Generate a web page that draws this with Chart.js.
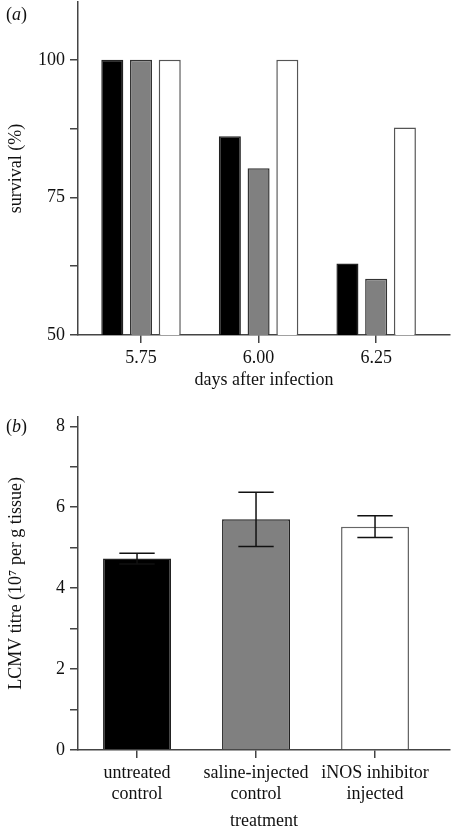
<!DOCTYPE html>
<html>
<head>
<meta charset="utf-8">
<script src="https://cdn.jsdelivr.net/npm/chart.js@4"></script>
<style>
  body { margin: 0; background: #fff; }
  .panel { position: absolute; left: 0; width: 452px; }
  .tag { position: absolute; left: 6px; font: 18px "Liberation Serif", serif; color: #111; }
</style>
</head>
<body>
<div class="panel" style="top:0;height:400px"><canvas id="chartA"></canvas></div>
<div class="panel" style="top:400px;height:432px"><canvas id="chartB"></canvas></div>
<div class="tag" style="top:4px">(<i>a</i>)</div>
<div class="tag" style="top:416px">(<i>b</i>)</div>
<script>
"use strict";

// panel (a): survival by day
const days = [5.75, 6.00, 6.25]
const dayTicks = [5.75, 6.00, 6.25]
const survivalTicks = [50, 62.5, 75, 87.5, 100]
const survivalLabels = [50, 75, 100]
const untreated = [100, 86.1, 63.0]
const saline = [100, 80.3, 60.2]
const inhibitor = [100, 100, 87.7]

// panel (b): LCMV titre by treatment
const treatments = [["untreated", "control"], ["saline-injected", "control"], ["iNOS inhibitor", "injected"]]
const titre = [4.73, 5.70, 5.52]
const titreErr = [0.13, 0.67, 0.27]
const titreTicks = [0, 1, 2, 3, 4, 5, 6, 7, 8]
const titreLabels = [0, 2, 4, 6, 8]

const serif = { family: "'Liberation Serif', serif", size: 18 }
const axisColor = "#444"
Chart.defaults.color = "#111"
Chart.defaults.font = serif

function axisStyle() {
    return {
        border: { color: axisColor, width: 1.5 },
        grid: { drawOnChartArea: false, drawTicks: true, tickLength: 8, color: axisColor, lineWidth: 1.5, offset: false }
    }
}

function fixY(width) {
    return (scale) => {
        scale.width = width
        scale.paddingTop = 0
        scale.paddingBottom = 0
    }
}
function fixX(height) {
    return (scale) => {
        scale.height = height
        scale.paddingLeft = 0
        scale.paddingRight = 0
    }
}

const bars = (data, fill, edge) => ({
    data: days.map((d, i) => ({ x: d, y: data[i] })),
    backgroundColor: fill,
    borderColor: edge,
    borderWidth: 1.5,
    borderSkipped: 'bottom'
})

new Chart("chartA", {
    type: 'bar',
    data: {
        datasets: [
            bars(untreated, "#000", "#222"),
            bars(saline, "#808080", "#333"),
            bars(inhibitor, "#fff", "#555")
        ]
    },
    options: {
        responsive: true,
        maintainAspectRatio: false,
        animation: false,
        layout: { padding: { top: 2, right: 2, left: 0, bottom: 0 } },
        plugins: { legend: { display: false }, tooltip: { enabled: false } },
        datasets: { bar: { categoryPercentage: 0.733, barPercentage: 0.767 } },
        scales: {
            x: {
                type: 'linear',
                min: 5.616,
                max: 6.407,
                offset: false,
                ...axisStyle(),
                afterBuildTicks: (scale) => { scale.ticks = dayTicks.map(v => ({ value: v })) },
                afterFit: fixX(65),
                ticks: { padding: 4, callback: (v) => v.toFixed(2) },
                title: { display: true, text: "days after infection", padding: { top: 9, bottom: 9 } }
            },
            y: {
                min: 50,
                max: 110.5,
                ...axisStyle(),
                afterBuildTicks: (scale) => { scale.ticks = survivalTicks.map(v => ({ value: v })) },
                afterFit: fixY(78),
                ticks: { padding: 5, callback: (v) => survivalLabels.includes(v) ? String(v) : "" },
                title: { display: true, text: "survival (%)", padding: { top: 5, bottom: 0 } }
            }
        }
    }
})

const errorBars = {
    id: 'errorBars',
    afterDatasetsDraw(chart) {
        const ctx = chart.ctx
        const y = chart.scales.y
        chart.getDatasetMeta(0).data.forEach((bar, i) => {
            const hi = y.getPixelForValue(titre[i] + titreErr[i])
            const lo = y.getPixelForValue(titre[i] - titreErr[i])
            const half = bar.width * 0.26
            ctx.save()
            ctx.strokeStyle = "#111"
            ctx.lineWidth = 1.5
            ctx.beginPath()
            ctx.moveTo(bar.x, hi)
            ctx.lineTo(bar.x, lo)
            ctx.moveTo(bar.x - half, hi)
            ctx.lineTo(bar.x + half, hi)
            ctx.moveTo(bar.x - half, lo)
            ctx.lineTo(bar.x + half, lo)
            ctx.stroke()
            ctx.restore()
        })
    }
}

new Chart("chartB", {
    type: 'bar',
    data: {
        datasets: [{
            data: titre.map((v, i) => ({ x: i, y: v })),
            backgroundColor: ["#000", "#808080", "#fff"],
            borderColor: ["#222", "#222", "#666"],
            borderWidth: 1.5,
            borderSkipped: 'bottom'
        }]
    },
    options: {
        responsive: true,
        maintainAspectRatio: false,
        animation: false,
        layout: { padding: { top: 17, right: 2, left: 0, bottom: 0 } },
        plugins: { legend: { display: false }, tooltip: { enabled: false } },
        datasets: { bar: { categoryPercentage: 1, barPercentage: 0.571 } },
        scales: {
            x: {
                type: 'linear',
                min: -0.496,
                max: 2.63,
                offset: false,
                ...axisStyle(),
                afterBuildTicks: (scale) => { scale.ticks = treatments.map((t, i) => ({ value: i })) },
                afterFit: fixX(82),
                ticks: { padding: 4, callback: (v) => treatments[v] },
                title: { display: true, text: "treatment", padding: { top: 0, bottom: 0 } }
            },
            y: {
                min: 0,
                max: 8.23,
                ...axisStyle(),
                afterBuildTicks: (scale) => { scale.ticks = titreTicks.map(v => ({ value: v })) },
                afterFit: fixY(78),
                ticks: { padding: 5, callback: (v) => titreLabels.includes(v) ? String(v) : "" },
                title: { display: true, text: "LCMV titre (10\u2077 per g tissue)", padding: { top: 5, bottom: 0 } }
            }
        }
    },
    plugins: [errorBars]
})
</script>
</body>
</html>
